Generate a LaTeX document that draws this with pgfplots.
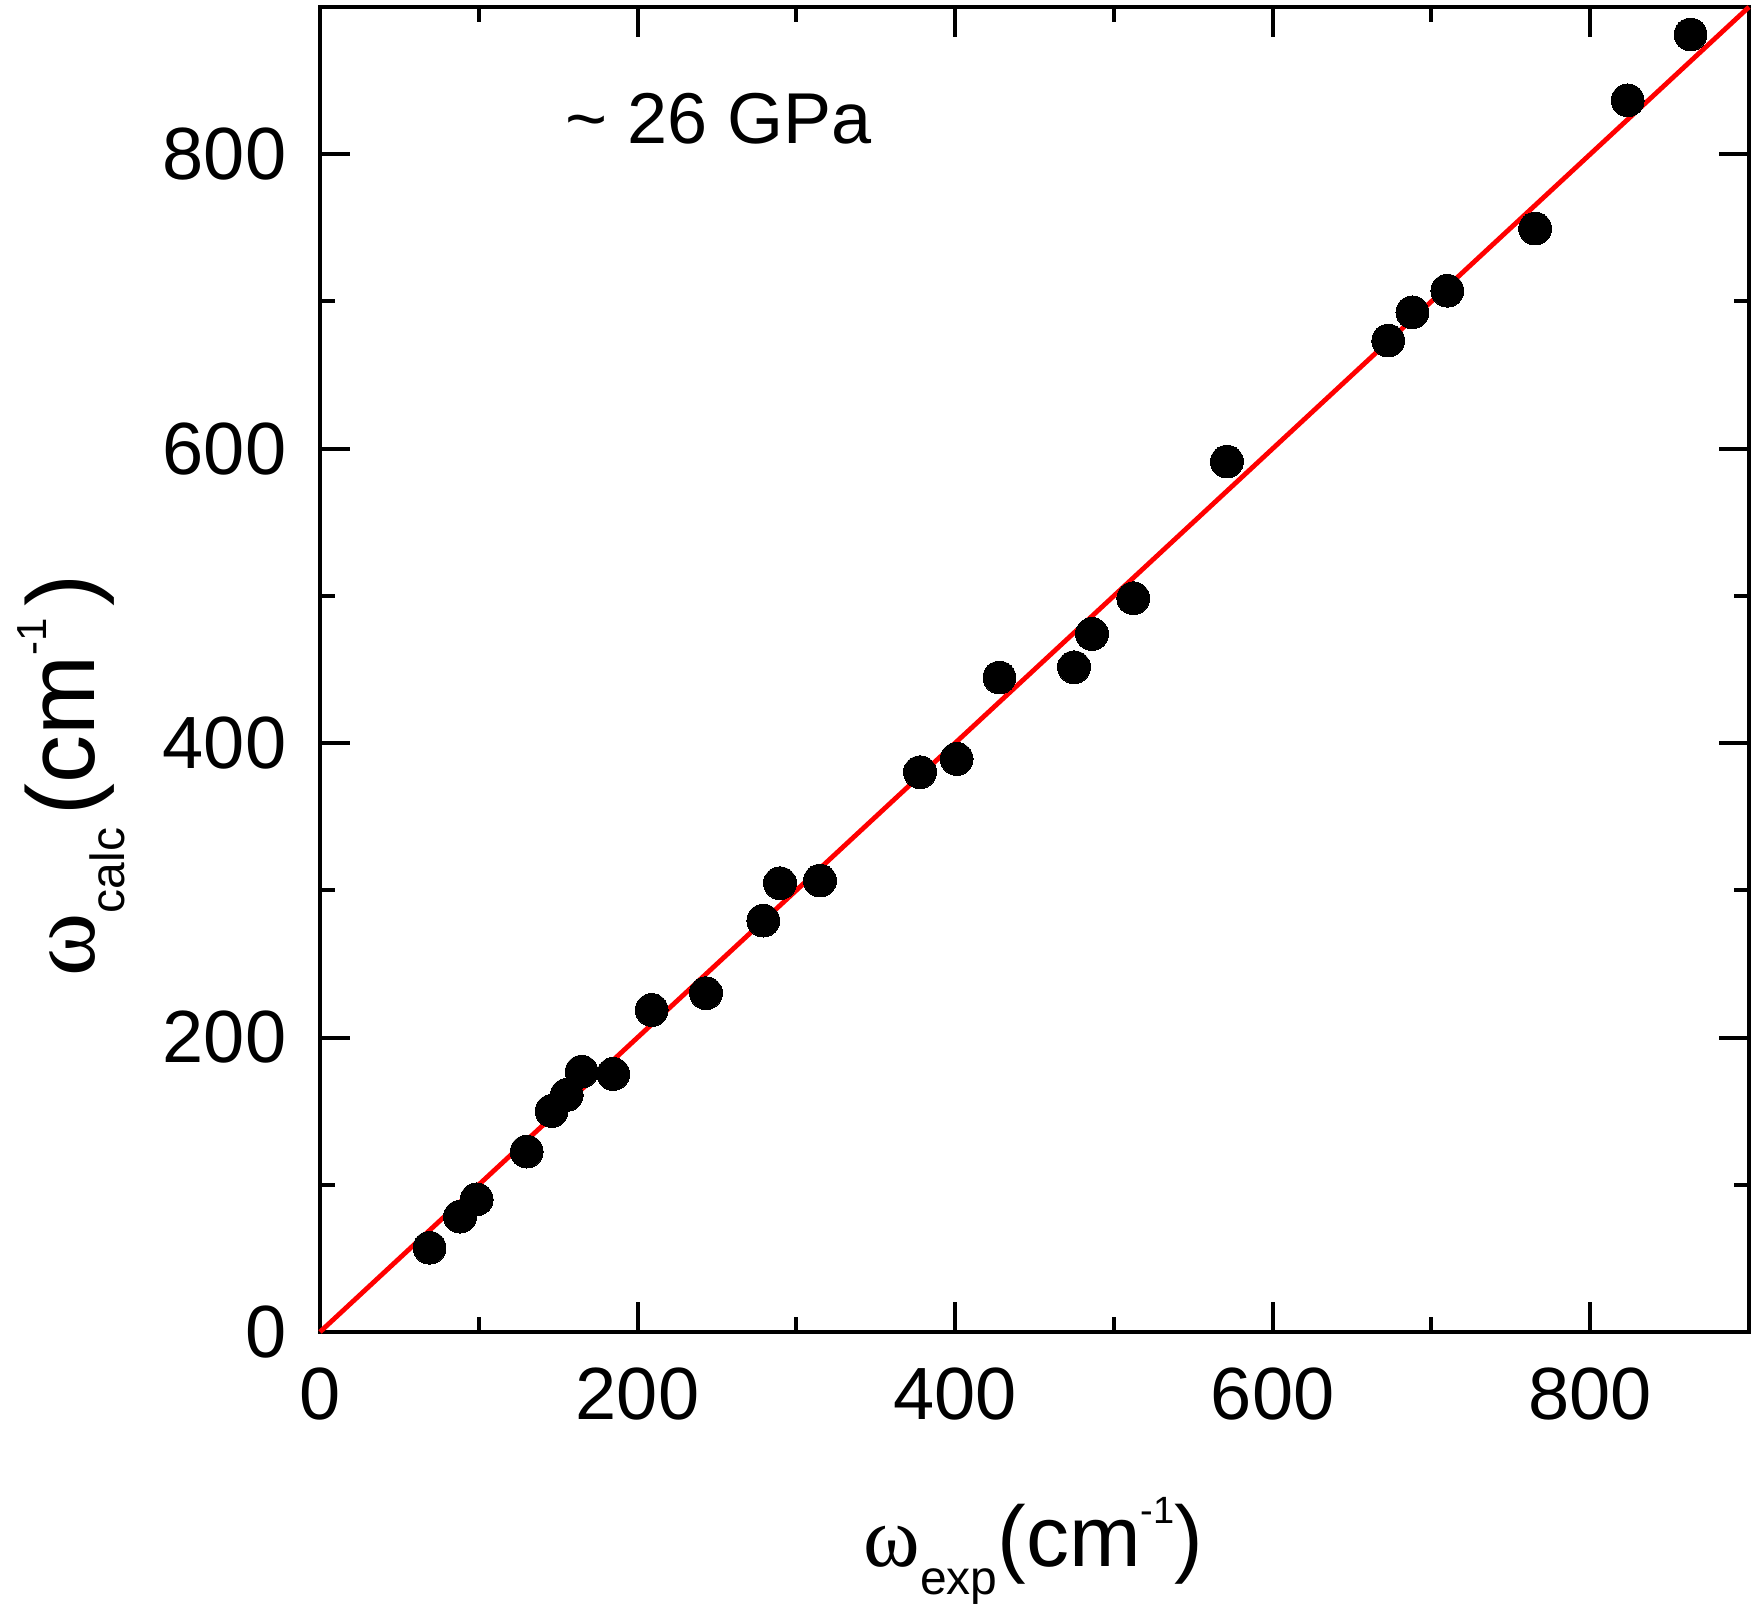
\documentclass[border=0pt]{standalone}
\usepackage{fontspec}
\setmainfont{Liberation Sans}
\newfontfamily\grk{Liberation Serif}
\usepackage{pgfplots}
\pgfplotsset{compat=1.18}

% calculated vs. experimental phonon frequencies
\pgfplotstableread{
wexp  wcalc
69.0  57.2
88.2  78.3
98.7  90.1
130.2 122.5
145.9 150.1
155.4 161.0
164.8 176.8
184.7 175.2
208.9 218.7
243.1 230.1
279.2 279.4
289.7 304.8
314.9 306.6
377.9 380.2
401.0 389.2
427.9 444.5
474.9 451.5
486.2 474.1
512.2 498.4
571.2 591.2
672.8 673.4
688.0 692.6
710.0 707.3
765.3 749.5
823.6 836.6
863.2 881.3
}\freqs

% y = x reference line
\pgfplotstableread{
x y
0 0
900 900
}\diagline

\newcommand{\xlblfont}{\fontsize{21.5}{24}\selectfont}
\newcommand{\ylblfont}{\fontsize{24}{27}\selectfont}
\newcommand{\subfont}{\fontsize{12}{14}\selectfont}
\newcommand{\supfont}{\fontsize{9.5}{11}\selectfont}
\newcommand{\ysupfont}{\fontsize{10.5}{12}\selectfont}

\begin{document}
\begin{tikzpicture}
\begin{axis}[
  scale only axis,
  width=357.25pt, height=331.25pt,
  xmin=0, xmax=900, ymin=0, ymax=900,
  xtick={0,200,...,800}, ytick={0,200,...,800},
  minor xtick={100,300,500,700}, minor ytick={100,300,500,700},
  tick align=inside,
  xtick pos=both, ytick pos=both,
  major tick length=7.5pt, minor tick length=3.75pt,
  axis line style={line width=1pt},
  every tick/.style={black, line width=1pt},
  /pgf/number format/assume math mode=true,
  ticklabel style={font=\fontsize{18.5}{21}\selectfont, inner sep=0pt},
  xticklabel style={yshift=-8.75pt},
  yticklabel style={xshift=-8.25pt},
  every axis x label/.style={at={(axis description cs:0.4993,-0.17736)}, anchor=base, inner sep=0pt},
  every axis y label/.style={at={(axis description cs:-0.15745,0.42)}, anchor=base, rotate=90, inner sep=0pt},
  xlabel={\xlblfont{\grk ω}\raisebox{-7pt}{\subfont exp}(cm\raisebox{10.75pt}{\supfont -1})},
  ylabel={\ylblfont{\grk ω}\raisebox{-7.5pt}{\subfont calc}\hspace{3pt}(cm\raisebox{12pt}{\ysupfont -1}\hspace{3pt})},
  clip=false,
]
\addplot[only marks, mark=*, mark size=4.1pt, mark options={fill=black, draw=black, line width=0pt}] table[x=wexp, y=wcalc] {\freqs};
\addplot[red, line width=1.2pt, no marks] table[x=x, y=y] {\diagline};
\node[anchor=base west, inner sep=0pt, font=\fontsize{18}{21}\selectfont] at (axis cs:154.3,807.6) {\textasciitilde\ 26 GPa};
\end{axis}
% page margins around the axis box
\path (current axis.south west) ++(-80pt,-70.25pt);
\path (current axis.north east) ++(2pt,1.75pt);
\end{tikzpicture}
\end{document}
